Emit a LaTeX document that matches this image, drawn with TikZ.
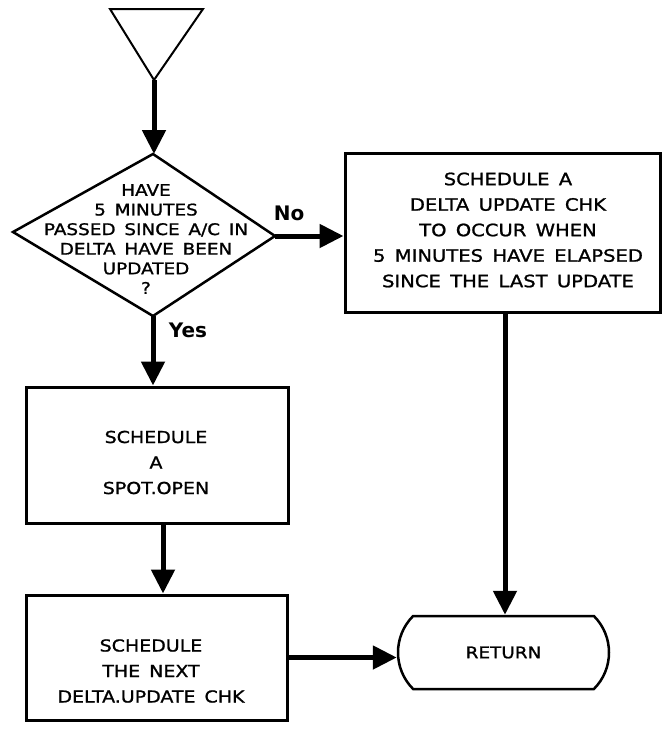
\documentclass[tikz,border=0pt]{standalone}
\usepackage{fontspec}
\usetikzlibrary{arrows.meta,shapes.misc,calc}
\newfontfamily\chartfont[FakeStretch=1.15,WordSpace=1.5,FakeBold=1.2]{DejaVu Sans}
\newfontfamily\labelfont{DejaVu Sans}
\begin{document}
\begin{tikzpicture}[x=1pt,y=-1pt,
  flow/.style={line width=5pt,-{Triangle[length=24pt,width=23pt]}},
  procbox/.style={draw,line width=3pt,rectangle,inner sep=0pt},
  boxtext/.style={font=\chartfont\fontsize{16.5}{25.5}\selectfont,align=center,inner sep=0pt},
  asktext/.style={font=\chartfont\fontsize{16}{19.6}\selectfont,align=center,inner sep=0pt},
  branch/.style={font=\labelfont\bfseries\fontsize{20}{24}\selectfont,inner sep=0pt}
]
\useasboundingbox (0,0) rectangle (662,731);

% entry connector (inverted triangle)
\draw[line width=2pt,line join=miter] (110,9) -- (203,9) -- (154,80) -- cycle;
\coordinate (start) at (154,80);

% decision
\coordinate (askN) at (153,154);
\coordinate (askS) at (153,316);
\coordinate (askW) at (13,232);
\coordinate (askE) at (275,236);
\draw[line width=2.5pt,line join=miter] (askN) -- (askE) -- (askS) -- (askW) -- cycle;
\node[asktext] (asklbl) at (146,239) {HAVE\\5 MINUTES\\PASSED SINCE A/C IN\\DELTA HAVE BEEN\\UPDATED\\?};

% process boxes
\node[procbox,minimum width=315pt,minimum height=159pt] (later) at (502.5,232.5) {};
\node[boxtext,font=\chartfont\fontsize{17}{25.5}\selectfont] (laterlbl) at (508,230) {SCHEDULE A\\DELTA UPDATE CHK\\TO OCCUR WHEN\\5 MINUTES HAVE ELAPSED\\SINCE THE LAST UPDATE};

\node[procbox,minimum width=262pt,minimum height=136pt] (spot) at (157,455) {};
\node[boxtext] (spotlbl) at (156,462.5) {SCHEDULE\\A\\SPOT.OPEN};

\node[procbox,minimum width=261pt,minimum height=125pt] (next) at (156.5,657.5) {};
\node[boxtext] (nextlbl) at (151,671) {SCHEDULE\\THE NEXT\\DELTA.UPDATE CHK};

% terminator
\node[rounded rectangle,rounded rectangle arc length=90,draw,line width=2.5pt,
      minimum width=211pt,minimum height=73pt,inner sep=0pt,
      font=\chartfont\fontsize{16}{20}\selectfont] (ret) at (503.5,652.5) {RETURN};

% connector end points
\coordinate (spotout) at ($(spot.south)+(6,0)$);
\coordinate (laterout) at ($(later.south)+(2.5,0)$);

% connectors
\draw[flow] (start) -- (start |- askN);
\draw[flow] (askE) -- (askE -| later.west);
\draw[flow] (askS) -- (askS |- spot.north);
\draw[flow] (spotout) -- (spotout |- next.north);
\draw[flow] (laterout) -- (laterout |- ret.north);
\draw[flow] (next.east) -- (next.east -| ret.west);

% branch labels
\node[branch] (nolbl) at (289,213) {No};
\node[branch] (yeslbl) at (188,330) {Yes};
\end{tikzpicture}
\end{document}
